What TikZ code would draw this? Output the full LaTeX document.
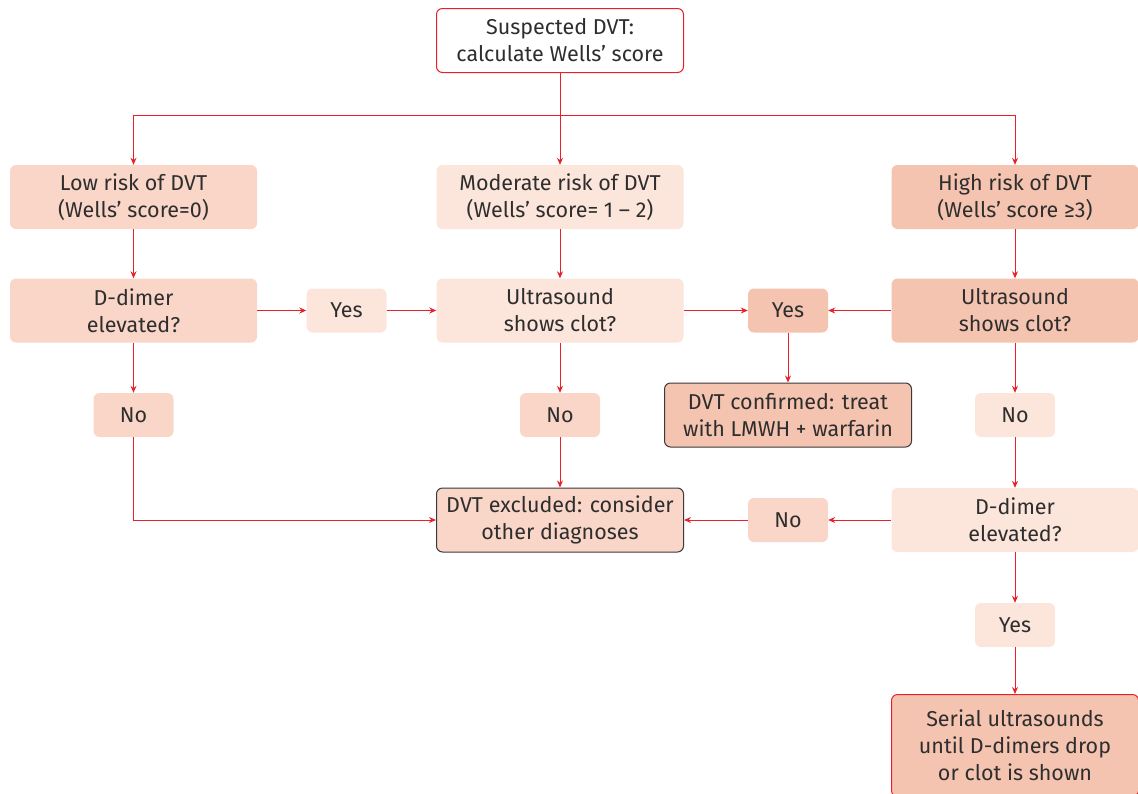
\documentclass[tikz,border=0pt]{standalone}
\usepackage{fontspec}
\setmainfont{Fira Sans}
\usetikzlibrary{arrows.meta}
\definecolor{flowred}{HTML}{E8202A}
\definecolor{palepink}{HTML}{FCE5DB}
\definecolor{midpink}{HTML}{F9D6C7}
\definecolor{deeppink}{HTML}{F5C4B0}
\definecolor{edgegray}{HTML}{3A3A3A}
\definecolor{inkgray}{HTML}{2E2E2E}
\tikzset{
  box/.style={rounded corners=6pt, minimum width=247pt, minimum height=64pt,
    align=center, inner sep=0pt, text=inkgray, font=\fontsize{21.5}{27}\selectfont},
  tag/.style={box, minimum width=80pt, minimum height=44pt},
  link/.style={draw=flowred, line width=1pt, -{Stealth[length=7pt,width=6pt]}},
}
\begin{document}
\begin{tikzpicture}[x=1pt,y=-1pt]
\useasboundingbox (0,0) rectangle (1138,793);

\node[box, fill=white, draw=flowred, line width=1pt] (start) at (560,40.5) {Suspected DVT:\\calculate Wells' score};
\coordinate (split) at (560,115);

\node[box, fill=midpink] (low) at (133.5,197) {Low risk of DVT\\(Wells' score=0)};
\node[box, fill=palepink] (moderate) at (560,197) {Moderate risk of DVT\\(Wells' score= 1 -- 2)};
\node[box, fill=deeppink] (high) at (1015,197) {High risk of DVT\\(Wells' score ≥3)};

\node[box, fill=midpink] (ddimerL) at (133.5,310.5) {D-dimer\\elevated?};
\node[tag, fill=palepink] (yesL) at (346.5,310.5) {Yes};
\node[box, fill=palepink] (usM) at (560,310.5) {Ultrasound\\shows clot?};
\node[tag, fill=deeppink] (yesM) at (788,310.5) {Yes};
\node[box, fill=deeppink] (usR) at (1015,310.5) {Ultrasound\\shows clot?};

\node[tag, fill=midpink] (noL) at (133.5,415) {No};
\node[tag, fill=midpink] (noM) at (560,415) {No};
\node[box, fill=deeppink, draw=edgegray, line width=1pt] (confirmed) at (788,415) {DVT confirmed: treat\\with LMWH + warfarin};
\node[tag, fill=palepink] (noR) at (1015,415) {No};

\node[box, fill=midpink, draw=edgegray, line width=1pt] (excluded) at (560,520) {DVT excluded: consider\\other diagnoses};
\node[tag, fill=midpink] (noB) at (788,520) {No};
\node[box, fill=palepink] (ddimerR) at (1015,520) {D-dimer\\elevated?};

\node[tag, fill=palepink] (yesR) at (1015,625) {Yes};
\node[box, fill=deeppink, draw=flowred, line width=1pt, minimum height=102pt] (serial) at (1015,745.5) {Serial ultrasounds\\until D-dimers drop\\or clot is shown};

\draw[link] (start) -- (moderate);
\draw[link] (split) -| (low);
\draw[link] (split) -| (high);

\draw[link] (low) -- (ddimerL);
\draw[link] (ddimerL) -- (yesL);
\draw[link] (yesL) -- (usM);
\draw[link] (moderate) -- (usM);
\draw[link] (usM) -- (yesM);
\draw[link] (usR) -- (yesM);
\draw[link] (yesM) -- (confirmed);
\draw[link] (high) -- (usR);

\draw[link] (ddimerL) -- (noL);
\draw[link] (noL) |- (excluded);
\draw[link] (usM) -- (noM);
\draw[link] (noM) -- (excluded);
\draw[link] (usR) -- (noR);
\draw[link] (noR) -- (ddimerR);

\draw[link] (ddimerR) -- (noB);
\draw[link] (noB) -- (excluded);
\draw[link] (ddimerR) -- (yesR);
\draw[link] (yesR) -- (serial);
\end{tikzpicture}
\end{document}
